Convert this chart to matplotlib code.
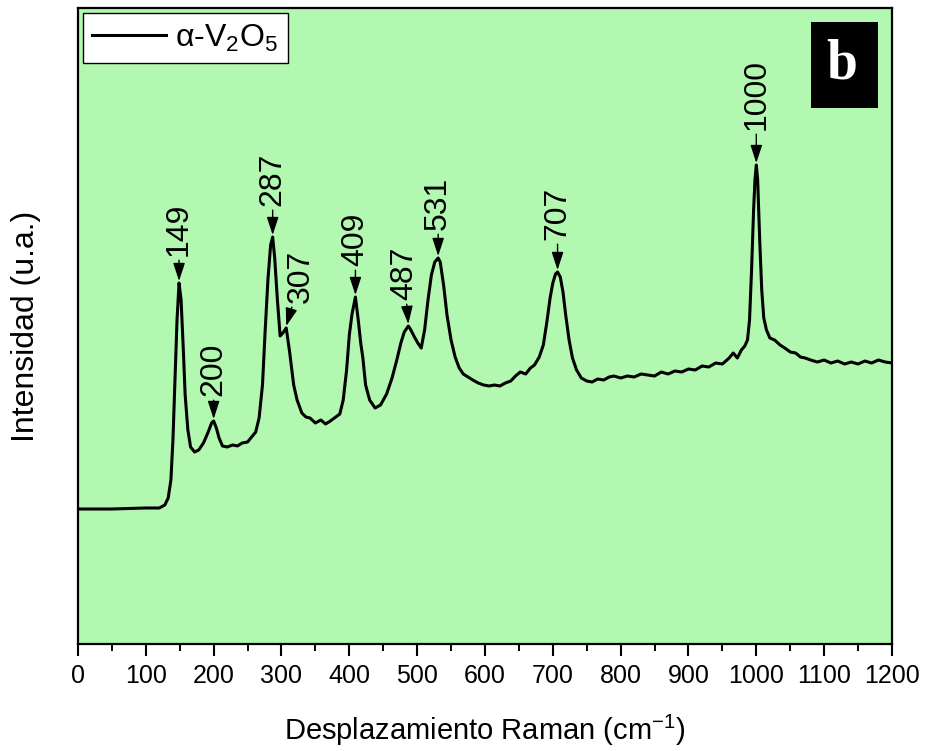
import matplotlib
matplotlib.use("Agg")
import matplotlib.pyplot as plt
from matplotlib.patches import Rectangle
from matplotlib.ticker import MultipleLocator

# Raman spectrum of alpha-V2O5 (wavenumber in cm^-1, intensity in arbitrary units)
shift = [0, 50, 100, 120, 128, 133, 137, 140, 143, 146, 149, 152, 155, 158, 162,
         166, 172, 178, 185, 192, 197, 200, 204, 208, 213, 220, 228, 235, 242, 250,
         256, 262, 267, 272, 276, 280, 284, 287, 290, 294, 298, 302, 307, 312, 318,
         323, 330, 336, 342, 350, 358, 365, 372, 380, 386, 391, 396, 400, 404, 409,
         413, 417, 420, 424, 430, 438, 446, 455, 463, 470, 476, 481, 487, 490, 496,
         501, 506, 511, 516, 521, 526, 531, 534, 539, 544, 550, 556, 562, 568, 575,
         582, 590, 598, 606, 614, 622, 630, 638, 645, 652, 660, 667, 673, 680, 686,
         691, 696, 700, 704, 707, 711, 715, 719, 724, 729, 735, 742, 750, 758, 766,
         775, 783, 790, 800, 810, 820, 830, 840, 850, 860, 870, 880, 890, 900, 910,
         920, 930, 940, 950, 960, 966, 972, 978, 983, 987, 990, 993, 996, 998, 1000,
         1002, 1005, 1008, 1011, 1015, 1020, 1027, 1035, 1042, 1050, 1058, 1065, 1072, 1080, 1090,
         1100, 1110, 1120, 1130, 1140, 1150, 1160, 1170, 1180, 1190, 1200]
intensity = [135, 135, 136, 136, 139, 146, 164, 204, 264, 324, 361, 344, 299, 249, 214,
             197, 192, 194, 201, 212, 221, 223, 216, 206, 198, 197, 199, 198, 201, 202,
             207, 212, 226, 259, 314, 364, 399, 407, 386, 344, 308, 311, 316, 292, 259,
             244, 231, 227, 226, 221, 224, 220, 223, 227, 230, 244, 274, 309, 330, 347,
             325, 300, 286, 259, 244, 236, 239, 250, 266, 284, 301, 312, 318, 315, 307,
             301, 296, 314, 344, 369, 382, 386, 382, 359, 329, 304, 287, 276, 270, 267,
             264, 261, 259, 258, 259, 258, 261, 263, 268, 272, 270, 276, 279, 287, 299,
             321, 346, 361, 370, 372, 367, 352, 329, 304, 286, 274, 266, 263, 262, 265,
             264, 267, 268, 266, 268, 267, 270, 269, 268, 272, 270, 273, 272, 275, 274,
             278, 277, 281, 280, 286, 291, 286, 294, 298, 304, 324, 374, 434, 464, 479,
             464, 404, 354, 326, 314, 306, 304, 299, 296, 292, 291, 287, 286, 284, 282,
             284, 281, 283, 280, 282, 280, 283, 281, 284, 282, 281]

# Labelled Raman bands
peak_pos = [149, 200, 287, 307, 409, 487, 531, 707, 1000]
peak_labels = ["149", "200", "287", "307", "409", "487", "531", "707", "1000"]
# label placement: horizontal offset (cm^-1) and height above the peak
label_dx = [0, 0, 0, 22, 0, -6, 0, 0, 0]
label_gap = [27, 25, 31, 25, 31, 26, 28, 32, 35]

x_ticks = list(range(0, 1201, 100))

plt.rcParams["font.family"] = ["Liberation Sans", "DejaVu Sans"]
plt.rcParams["mathtext.default"] = "regular"

fig = plt.figure(figsize=(9.25, 7.51), dpi=100)
ax = fig.add_axes([0.0843, 0.1425, 0.88, 0.8468])
ax.set_facecolor("#b3f8b0")

ax.plot(shift, intensity, color="black", lw=2.2, label=r"α-V$_2$O$_5$",
        solid_joinstyle="round")

ax.set_xlim(0, 1200)
ax.set_ylim(0, 636)
ax.set_xticks(x_ticks)
ax.xaxis.set_minor_locator(MultipleLocator(50))
ax.set_yticks([])
ax.tick_params(axis="x", which="major", direction="out", length=8.5, width=1.5,
               labelsize=18, pad=6)
ax.tick_params(axis="x", which="minor", direction="out", length=5, width=1.4)
for sp in ax.spines.values():
    sp.set_linewidth(1.6)

ax.set_xlabel("Desplazamiento Raman (cm$^{-1}$)", fontsize=21, labelpad=18)
ax.set_ylabel("Intensidad (u.a.)", fontsize=23)
ax.yaxis.set_label_coords(-0.045, 0.5)

for p, lab, dx, gap in zip(peak_pos, peak_labels, label_dx, label_gap):
    y_peak = max(v for s, v in zip(shift, intensity) if abs(s - p) <= 2)
    ax.annotate(lab, xy=(p, y_peak + 2), xytext=(p + dx, y_peak + gap),
                rotation=90, ha="center", va="bottom", fontsize=23,
                arrowprops=dict(arrowstyle="-|>,head_length=0.55,head_width=0.18",
                                mutation_scale=20, color="black", lw=1.0,
                                shrinkA=1, shrinkB=0))

leg = ax.legend(loc="upper left", fontsize=23, frameon=True, fancybox=False,
                edgecolor="black", framealpha=1, handlelength=2.3,
                borderpad=0.3, handletextpad=0.3, borderaxespad=0.15)
leg.get_frame().set_linewidth(1.0)

ax.add_patch(Rectangle((0.9005, 0.843), 0.0823, 0.135, transform=ax.transAxes,
                       facecolor="black", edgecolor="none", zorder=5))
ax.text(0.938, 0.911, "b", transform=ax.transAxes, ha="center", va="center",
        fontsize=40, fontweight="bold", color="white", zorder=6,
        family=["Liberation Serif", "DejaVu Serif"])

fig.savefig("out.png", dpi=100, facecolor="white")
